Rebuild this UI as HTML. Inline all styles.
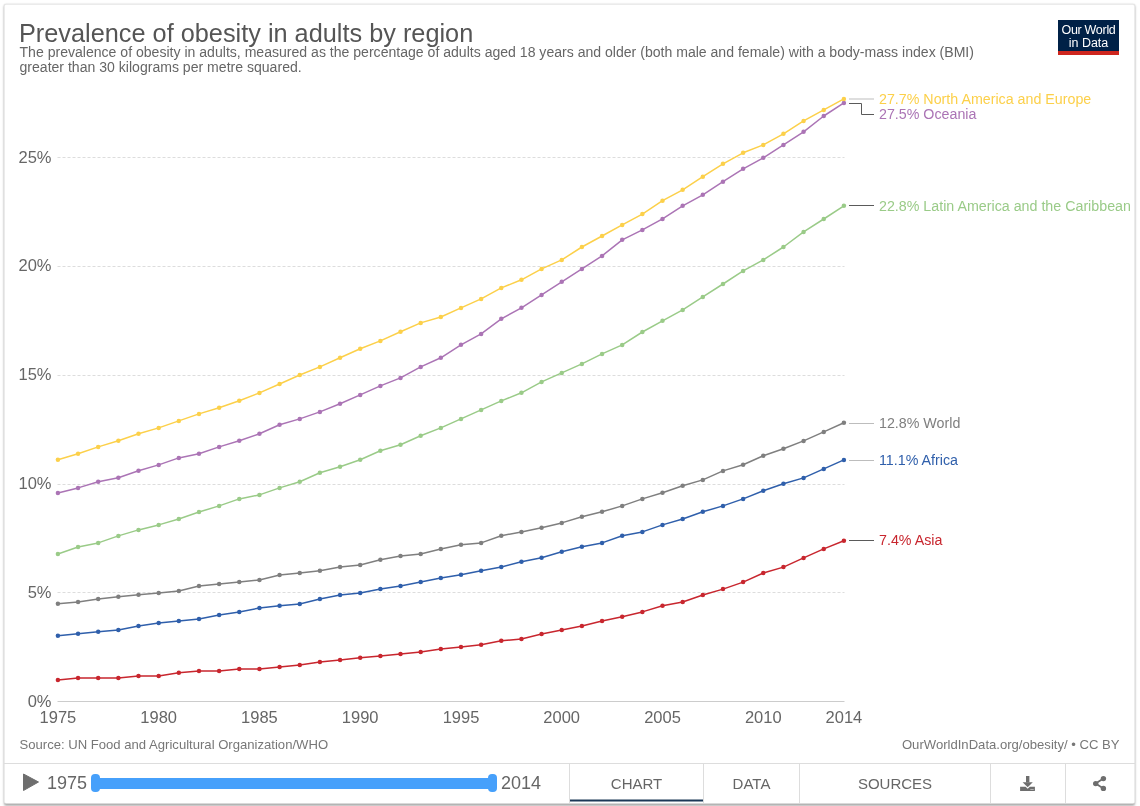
<!DOCTYPE html>
<html><head><meta charset="utf-8">
<style>
html,body{margin:0;padding:0;background:#fff;width:1140px;height:806px;overflow:hidden;}
body{font-family:"Liberation Sans",sans-serif;position:relative;}
.card{position:absolute;left:4px;top:4px;width:1131px;height:800px;box-sizing:border-box;background:#fff;border-radius:2px;border:1px solid rgba(0,0,0,0.08);border-bottom-color:rgba(0,0,0,0.15);
 box-shadow:0 0 1.5px rgba(0,0,0,0.15),0 1.5px 2.5px rgba(0,0,0,0.3);}
svg{position:absolute;left:0;top:0;will-change:transform;}
text{font-family:"Liberation Sans",sans-serif;}
.ax{font-size:16.5px;fill:#666;}
.lb{font-size:14.25px;}
.title{font-size:25.3px;fill:#555;}
.sub{font-size:14.07px;fill:#666;}
.src{font-size:13.1px;fill:#777;}
.ctl{font-size:18px;fill:#666;}
.tab{font-size:15px;fill:#666;}
</style></head><body>
<div class="card"></div>
<svg width="1140" height="806" viewBox="0 0 1140 806">
<text x="19" y="41.7" class="title">Prevalence of obesity in adults by region</text>
<text x="19.5" y="56.7" class="sub">The prevalence of obesity in adults, measured as the percentage of adults aged 18 years and older (both male and female) with a body-mass index (BMI)</text>
<text x="19.5" y="72.2" class="sub">greater than 30 kilograms per metre squared.</text>
<g transform="translate(1058,20)">
<rect x="0" y="0" width="61" height="31" fill="#002147"/>
<rect x="0" y="31" width="61" height="4" fill="#CE261E"/>
<text x="30.5" y="14" text-anchor="middle" font-size="12.5" fill="#fff" letter-spacing="-0.3">Our World</text>
<text x="30.5" y="27" text-anchor="middle" font-size="12.5" fill="#fff">in Data</text>
</g>
<line x1="57.5" y1="592.5" x2="844.5" y2="592.5" stroke="#ddd" stroke-width="1" stroke-dasharray="3,2"/>
<line x1="57.5" y1="484.5" x2="844.5" y2="484.5" stroke="#ddd" stroke-width="1" stroke-dasharray="3,2"/>
<line x1="57.5" y1="375.5" x2="844.5" y2="375.5" stroke="#ddd" stroke-width="1" stroke-dasharray="3,2"/>
<line x1="57.5" y1="266.5" x2="844.5" y2="266.5" stroke="#ddd" stroke-width="1" stroke-dasharray="3,2"/>
<line x1="57.5" y1="157.5" x2="844.5" y2="157.5" stroke="#ddd" stroke-width="1" stroke-dasharray="3,2"/>
<line x1="57.5" y1="701.5" x2="844.5" y2="701.5" stroke="#ccc" stroke-width="1"/>
<text x="51.5" y="706.7" text-anchor="end" class="ax">0%</text>
<text x="51.5" y="597.9" text-anchor="end" class="ax">5%</text>
<text x="51.5" y="489.1" text-anchor="end" class="ax">10%</text>
<text x="51.5" y="380.2" text-anchor="end" class="ax">15%</text>
<text x="51.5" y="271.4" text-anchor="end" class="ax">20%</text>
<text x="51.5" y="162.6" text-anchor="end" class="ax">25%</text>
<text x="57.9" y="722.8" text-anchor="middle" class="ax">1975</text>
<text x="158.7" y="722.8" text-anchor="middle" class="ax">1980</text>
<text x="259.4" y="722.8" text-anchor="middle" class="ax">1985</text>
<text x="360.2" y="722.8" text-anchor="middle" class="ax">1990</text>
<text x="461.0" y="722.8" text-anchor="middle" class="ax">1995</text>
<text x="561.7" y="722.8" text-anchor="middle" class="ax">2000</text>
<text x="662.5" y="722.8" text-anchor="middle" class="ax">2005</text>
<text x="763.3" y="722.8" text-anchor="middle" class="ax">2010</text>
<text x="843.9" y="722.8" text-anchor="middle" class="ax">2014</text>
<polyline points="57.90,680.00 78.05,677.90 98.21,677.90 118.36,677.90 138.52,676.00 158.67,676.00 178.82,672.80 198.98,671.00 219.13,671.00 239.28,668.90 259.44,669.00 279.59,666.90 299.75,665.00 319.90,661.90 340.05,660.00 360.21,657.80 380.36,655.90 400.52,654.00 420.67,651.90 440.82,649.00 460.98,646.90 481.13,644.80 501.28,640.80 521.44,638.90 541.59,634.00 561.75,629.90 581.90,625.90 602.05,620.90 622.21,616.80 642.36,611.90 662.52,605.80 682.67,602.00 702.82,595.00 722.98,589.10 743.13,582.10 763.28,573.00 783.44,567.10 803.59,557.90 823.75,548.90 843.90,540.70" fill="none" stroke="#C8262E" stroke-width="1.5" stroke-linejoin="round"/>
<circle cx="57.90" cy="680.00" r="2.25" fill="#C8262E"/>
<circle cx="78.05" cy="677.90" r="2.25" fill="#C8262E"/>
<circle cx="98.21" cy="677.90" r="2.25" fill="#C8262E"/>
<circle cx="118.36" cy="677.90" r="2.25" fill="#C8262E"/>
<circle cx="138.52" cy="676.00" r="2.25" fill="#C8262E"/>
<circle cx="158.67" cy="676.00" r="2.25" fill="#C8262E"/>
<circle cx="178.82" cy="672.80" r="2.25" fill="#C8262E"/>
<circle cx="198.98" cy="671.00" r="2.25" fill="#C8262E"/>
<circle cx="219.13" cy="671.00" r="2.25" fill="#C8262E"/>
<circle cx="239.28" cy="668.90" r="2.25" fill="#C8262E"/>
<circle cx="259.44" cy="669.00" r="2.25" fill="#C8262E"/>
<circle cx="279.59" cy="666.90" r="2.25" fill="#C8262E"/>
<circle cx="299.75" cy="665.00" r="2.25" fill="#C8262E"/>
<circle cx="319.90" cy="661.90" r="2.25" fill="#C8262E"/>
<circle cx="340.05" cy="660.00" r="2.25" fill="#C8262E"/>
<circle cx="360.21" cy="657.80" r="2.25" fill="#C8262E"/>
<circle cx="380.36" cy="655.90" r="2.25" fill="#C8262E"/>
<circle cx="400.52" cy="654.00" r="2.25" fill="#C8262E"/>
<circle cx="420.67" cy="651.90" r="2.25" fill="#C8262E"/>
<circle cx="440.82" cy="649.00" r="2.25" fill="#C8262E"/>
<circle cx="460.98" cy="646.90" r="2.25" fill="#C8262E"/>
<circle cx="481.13" cy="644.80" r="2.25" fill="#C8262E"/>
<circle cx="501.28" cy="640.80" r="2.25" fill="#C8262E"/>
<circle cx="521.44" cy="638.90" r="2.25" fill="#C8262E"/>
<circle cx="541.59" cy="634.00" r="2.25" fill="#C8262E"/>
<circle cx="561.75" cy="629.90" r="2.25" fill="#C8262E"/>
<circle cx="581.90" cy="625.90" r="2.25" fill="#C8262E"/>
<circle cx="602.05" cy="620.90" r="2.25" fill="#C8262E"/>
<circle cx="622.21" cy="616.80" r="2.25" fill="#C8262E"/>
<circle cx="642.36" cy="611.90" r="2.25" fill="#C8262E"/>
<circle cx="662.52" cy="605.80" r="2.25" fill="#C8262E"/>
<circle cx="682.67" cy="602.00" r="2.25" fill="#C8262E"/>
<circle cx="702.82" cy="595.00" r="2.25" fill="#C8262E"/>
<circle cx="722.98" cy="589.10" r="2.25" fill="#C8262E"/>
<circle cx="743.13" cy="582.10" r="2.25" fill="#C8262E"/>
<circle cx="763.28" cy="573.00" r="2.25" fill="#C8262E"/>
<circle cx="783.44" cy="567.10" r="2.25" fill="#C8262E"/>
<circle cx="803.59" cy="557.90" r="2.25" fill="#C8262E"/>
<circle cx="823.75" cy="548.90" r="2.25" fill="#C8262E"/>
<circle cx="843.90" cy="540.70" r="2.25" fill="#C8262E"/>
<polyline points="57.90,635.70 78.05,633.80 98.21,631.80 118.36,630.00 138.52,625.90 158.67,623.00 178.82,621.00 198.98,618.90 219.13,614.90 239.28,612.10 259.44,608.00 279.59,605.80 299.75,604.00 319.90,599.00 340.05,595.00 360.21,592.90 380.36,589.10 400.52,585.90 420.67,582.10 440.82,578.00 460.98,574.85 481.13,570.70 501.28,566.90 521.44,561.70 541.59,557.80 561.75,551.80 581.90,546.80 602.05,542.90 622.21,535.70 642.36,531.90 662.52,524.90 682.67,519.00 702.82,511.80 722.98,505.90 743.13,498.90 763.28,490.80 783.44,483.80 803.59,477.90 823.75,468.90 843.90,459.90" fill="none" stroke="#2F5FAB" stroke-width="1.5" stroke-linejoin="round"/>
<circle cx="57.90" cy="635.70" r="2.25" fill="#2F5FAB"/>
<circle cx="78.05" cy="633.80" r="2.25" fill="#2F5FAB"/>
<circle cx="98.21" cy="631.80" r="2.25" fill="#2F5FAB"/>
<circle cx="118.36" cy="630.00" r="2.25" fill="#2F5FAB"/>
<circle cx="138.52" cy="625.90" r="2.25" fill="#2F5FAB"/>
<circle cx="158.67" cy="623.00" r="2.25" fill="#2F5FAB"/>
<circle cx="178.82" cy="621.00" r="2.25" fill="#2F5FAB"/>
<circle cx="198.98" cy="618.90" r="2.25" fill="#2F5FAB"/>
<circle cx="219.13" cy="614.90" r="2.25" fill="#2F5FAB"/>
<circle cx="239.28" cy="612.10" r="2.25" fill="#2F5FAB"/>
<circle cx="259.44" cy="608.00" r="2.25" fill="#2F5FAB"/>
<circle cx="279.59" cy="605.80" r="2.25" fill="#2F5FAB"/>
<circle cx="299.75" cy="604.00" r="2.25" fill="#2F5FAB"/>
<circle cx="319.90" cy="599.00" r="2.25" fill="#2F5FAB"/>
<circle cx="340.05" cy="595.00" r="2.25" fill="#2F5FAB"/>
<circle cx="360.21" cy="592.90" r="2.25" fill="#2F5FAB"/>
<circle cx="380.36" cy="589.10" r="2.25" fill="#2F5FAB"/>
<circle cx="400.52" cy="585.90" r="2.25" fill="#2F5FAB"/>
<circle cx="420.67" cy="582.10" r="2.25" fill="#2F5FAB"/>
<circle cx="440.82" cy="578.00" r="2.25" fill="#2F5FAB"/>
<circle cx="460.98" cy="574.85" r="2.25" fill="#2F5FAB"/>
<circle cx="481.13" cy="570.70" r="2.25" fill="#2F5FAB"/>
<circle cx="501.28" cy="566.90" r="2.25" fill="#2F5FAB"/>
<circle cx="521.44" cy="561.70" r="2.25" fill="#2F5FAB"/>
<circle cx="541.59" cy="557.80" r="2.25" fill="#2F5FAB"/>
<circle cx="561.75" cy="551.80" r="2.25" fill="#2F5FAB"/>
<circle cx="581.90" cy="546.80" r="2.25" fill="#2F5FAB"/>
<circle cx="602.05" cy="542.90" r="2.25" fill="#2F5FAB"/>
<circle cx="622.21" cy="535.70" r="2.25" fill="#2F5FAB"/>
<circle cx="642.36" cy="531.90" r="2.25" fill="#2F5FAB"/>
<circle cx="662.52" cy="524.90" r="2.25" fill="#2F5FAB"/>
<circle cx="682.67" cy="519.00" r="2.25" fill="#2F5FAB"/>
<circle cx="702.82" cy="511.80" r="2.25" fill="#2F5FAB"/>
<circle cx="722.98" cy="505.90" r="2.25" fill="#2F5FAB"/>
<circle cx="743.13" cy="498.90" r="2.25" fill="#2F5FAB"/>
<circle cx="763.28" cy="490.80" r="2.25" fill="#2F5FAB"/>
<circle cx="783.44" cy="483.80" r="2.25" fill="#2F5FAB"/>
<circle cx="803.59" cy="477.90" r="2.25" fill="#2F5FAB"/>
<circle cx="823.75" cy="468.90" r="2.25" fill="#2F5FAB"/>
<circle cx="843.90" cy="459.90" r="2.25" fill="#2F5FAB"/>
<polyline points="57.90,603.80 78.05,602.00 98.21,598.90 118.36,596.80 138.52,594.80 158.67,593.00 178.82,590.90 198.98,586.00 219.13,583.90 239.28,581.90 259.44,579.90 279.59,574.90 299.75,573.00 319.90,570.80 340.05,567.00 360.21,564.90 380.36,559.80 400.52,555.90 420.67,553.90 440.82,548.90 460.98,544.85 481.13,542.90 501.28,535.70 521.44,531.90 541.59,527.80 561.75,522.90 581.90,516.80 602.05,511.80 622.21,505.90 642.36,498.90 662.52,492.80 682.67,485.80 702.82,479.90 722.98,470.90 743.13,464.80 763.28,455.80 783.44,448.80 803.59,440.90 823.75,431.90 843.90,422.80" fill="none" stroke="#7F7F7F" stroke-width="1.5" stroke-linejoin="round"/>
<circle cx="57.90" cy="603.80" r="2.25" fill="#7F7F7F"/>
<circle cx="78.05" cy="602.00" r="2.25" fill="#7F7F7F"/>
<circle cx="98.21" cy="598.90" r="2.25" fill="#7F7F7F"/>
<circle cx="118.36" cy="596.80" r="2.25" fill="#7F7F7F"/>
<circle cx="138.52" cy="594.80" r="2.25" fill="#7F7F7F"/>
<circle cx="158.67" cy="593.00" r="2.25" fill="#7F7F7F"/>
<circle cx="178.82" cy="590.90" r="2.25" fill="#7F7F7F"/>
<circle cx="198.98" cy="586.00" r="2.25" fill="#7F7F7F"/>
<circle cx="219.13" cy="583.90" r="2.25" fill="#7F7F7F"/>
<circle cx="239.28" cy="581.90" r="2.25" fill="#7F7F7F"/>
<circle cx="259.44" cy="579.90" r="2.25" fill="#7F7F7F"/>
<circle cx="279.59" cy="574.90" r="2.25" fill="#7F7F7F"/>
<circle cx="299.75" cy="573.00" r="2.25" fill="#7F7F7F"/>
<circle cx="319.90" cy="570.80" r="2.25" fill="#7F7F7F"/>
<circle cx="340.05" cy="567.00" r="2.25" fill="#7F7F7F"/>
<circle cx="360.21" cy="564.90" r="2.25" fill="#7F7F7F"/>
<circle cx="380.36" cy="559.80" r="2.25" fill="#7F7F7F"/>
<circle cx="400.52" cy="555.90" r="2.25" fill="#7F7F7F"/>
<circle cx="420.67" cy="553.90" r="2.25" fill="#7F7F7F"/>
<circle cx="440.82" cy="548.90" r="2.25" fill="#7F7F7F"/>
<circle cx="460.98" cy="544.85" r="2.25" fill="#7F7F7F"/>
<circle cx="481.13" cy="542.90" r="2.25" fill="#7F7F7F"/>
<circle cx="501.28" cy="535.70" r="2.25" fill="#7F7F7F"/>
<circle cx="521.44" cy="531.90" r="2.25" fill="#7F7F7F"/>
<circle cx="541.59" cy="527.80" r="2.25" fill="#7F7F7F"/>
<circle cx="561.75" cy="522.90" r="2.25" fill="#7F7F7F"/>
<circle cx="581.90" cy="516.80" r="2.25" fill="#7F7F7F"/>
<circle cx="602.05" cy="511.80" r="2.25" fill="#7F7F7F"/>
<circle cx="622.21" cy="505.90" r="2.25" fill="#7F7F7F"/>
<circle cx="642.36" cy="498.90" r="2.25" fill="#7F7F7F"/>
<circle cx="662.52" cy="492.80" r="2.25" fill="#7F7F7F"/>
<circle cx="682.67" cy="485.80" r="2.25" fill="#7F7F7F"/>
<circle cx="702.82" cy="479.90" r="2.25" fill="#7F7F7F"/>
<circle cx="722.98" cy="470.90" r="2.25" fill="#7F7F7F"/>
<circle cx="743.13" cy="464.80" r="2.25" fill="#7F7F7F"/>
<circle cx="763.28" cy="455.80" r="2.25" fill="#7F7F7F"/>
<circle cx="783.44" cy="448.80" r="2.25" fill="#7F7F7F"/>
<circle cx="803.59" cy="440.90" r="2.25" fill="#7F7F7F"/>
<circle cx="823.75" cy="431.90" r="2.25" fill="#7F7F7F"/>
<circle cx="843.90" cy="422.80" r="2.25" fill="#7F7F7F"/>
<polyline points="57.90,554.00 78.05,547.00 98.21,542.90 118.36,535.90 138.52,529.90 158.67,524.90 178.82,519.00 198.98,512.00 219.13,505.90 239.28,498.90 259.44,494.90 279.59,487.90 299.75,481.80 319.90,472.80 340.05,466.70 360.21,459.70 380.36,450.70 400.52,444.80 420.67,435.80 440.82,427.90 460.98,418.90 481.13,409.90 501.28,400.90 521.44,392.80 541.59,381.90 561.75,372.90 581.90,363.90 602.05,353.90 622.21,344.90 642.36,332.00 662.52,320.80 682.67,309.90 702.82,296.90 722.98,284.00 743.13,270.90 763.28,259.90 783.44,247.00 803.59,231.90 823.75,219.00 843.90,205.80" fill="none" stroke="#9ACB88" stroke-width="1.5" stroke-linejoin="round"/>
<circle cx="57.90" cy="554.00" r="2.25" fill="#9ACB88"/>
<circle cx="78.05" cy="547.00" r="2.25" fill="#9ACB88"/>
<circle cx="98.21" cy="542.90" r="2.25" fill="#9ACB88"/>
<circle cx="118.36" cy="535.90" r="2.25" fill="#9ACB88"/>
<circle cx="138.52" cy="529.90" r="2.25" fill="#9ACB88"/>
<circle cx="158.67" cy="524.90" r="2.25" fill="#9ACB88"/>
<circle cx="178.82" cy="519.00" r="2.25" fill="#9ACB88"/>
<circle cx="198.98" cy="512.00" r="2.25" fill="#9ACB88"/>
<circle cx="219.13" cy="505.90" r="2.25" fill="#9ACB88"/>
<circle cx="239.28" cy="498.90" r="2.25" fill="#9ACB88"/>
<circle cx="259.44" cy="494.90" r="2.25" fill="#9ACB88"/>
<circle cx="279.59" cy="487.90" r="2.25" fill="#9ACB88"/>
<circle cx="299.75" cy="481.80" r="2.25" fill="#9ACB88"/>
<circle cx="319.90" cy="472.80" r="2.25" fill="#9ACB88"/>
<circle cx="340.05" cy="466.70" r="2.25" fill="#9ACB88"/>
<circle cx="360.21" cy="459.70" r="2.25" fill="#9ACB88"/>
<circle cx="380.36" cy="450.70" r="2.25" fill="#9ACB88"/>
<circle cx="400.52" cy="444.80" r="2.25" fill="#9ACB88"/>
<circle cx="420.67" cy="435.80" r="2.25" fill="#9ACB88"/>
<circle cx="440.82" cy="427.90" r="2.25" fill="#9ACB88"/>
<circle cx="460.98" cy="418.90" r="2.25" fill="#9ACB88"/>
<circle cx="481.13" cy="409.90" r="2.25" fill="#9ACB88"/>
<circle cx="501.28" cy="400.90" r="2.25" fill="#9ACB88"/>
<circle cx="521.44" cy="392.80" r="2.25" fill="#9ACB88"/>
<circle cx="541.59" cy="381.90" r="2.25" fill="#9ACB88"/>
<circle cx="561.75" cy="372.90" r="2.25" fill="#9ACB88"/>
<circle cx="581.90" cy="363.90" r="2.25" fill="#9ACB88"/>
<circle cx="602.05" cy="353.90" r="2.25" fill="#9ACB88"/>
<circle cx="622.21" cy="344.90" r="2.25" fill="#9ACB88"/>
<circle cx="642.36" cy="332.00" r="2.25" fill="#9ACB88"/>
<circle cx="662.52" cy="320.80" r="2.25" fill="#9ACB88"/>
<circle cx="682.67" cy="309.90" r="2.25" fill="#9ACB88"/>
<circle cx="702.82" cy="296.90" r="2.25" fill="#9ACB88"/>
<circle cx="722.98" cy="284.00" r="2.25" fill="#9ACB88"/>
<circle cx="743.13" cy="270.90" r="2.25" fill="#9ACB88"/>
<circle cx="763.28" cy="259.90" r="2.25" fill="#9ACB88"/>
<circle cx="783.44" cy="247.00" r="2.25" fill="#9ACB88"/>
<circle cx="803.59" cy="231.90" r="2.25" fill="#9ACB88"/>
<circle cx="823.75" cy="219.00" r="2.25" fill="#9ACB88"/>
<circle cx="843.90" cy="205.80" r="2.25" fill="#9ACB88"/>
<polyline points="57.90,492.90 78.05,487.90 98.21,481.80 118.36,477.80 138.52,470.80 158.67,464.90 178.82,457.90 198.98,453.80 219.13,446.90 239.28,440.80 259.44,433.80 279.59,424.80 299.75,418.90 319.90,411.90 340.05,403.80 360.21,394.90 380.36,385.90 400.52,377.90 420.67,366.90 440.82,357.80 460.98,344.80 481.13,333.90 501.28,318.80 521.44,307.80 541.59,294.90 561.75,281.80 581.90,268.90 602.05,255.90 622.21,239.80 642.36,229.90 662.52,218.90 682.67,205.80 702.82,194.80 722.98,181.70 743.13,168.80 763.28,157.80 783.44,144.90 803.59,131.80 823.75,116.00 843.90,102.90" fill="none" stroke="#AB74B5" stroke-width="1.5" stroke-linejoin="round"/>
<circle cx="57.90" cy="492.90" r="2.25" fill="#AB74B5"/>
<circle cx="78.05" cy="487.90" r="2.25" fill="#AB74B5"/>
<circle cx="98.21" cy="481.80" r="2.25" fill="#AB74B5"/>
<circle cx="118.36" cy="477.80" r="2.25" fill="#AB74B5"/>
<circle cx="138.52" cy="470.80" r="2.25" fill="#AB74B5"/>
<circle cx="158.67" cy="464.90" r="2.25" fill="#AB74B5"/>
<circle cx="178.82" cy="457.90" r="2.25" fill="#AB74B5"/>
<circle cx="198.98" cy="453.80" r="2.25" fill="#AB74B5"/>
<circle cx="219.13" cy="446.90" r="2.25" fill="#AB74B5"/>
<circle cx="239.28" cy="440.80" r="2.25" fill="#AB74B5"/>
<circle cx="259.44" cy="433.80" r="2.25" fill="#AB74B5"/>
<circle cx="279.59" cy="424.80" r="2.25" fill="#AB74B5"/>
<circle cx="299.75" cy="418.90" r="2.25" fill="#AB74B5"/>
<circle cx="319.90" cy="411.90" r="2.25" fill="#AB74B5"/>
<circle cx="340.05" cy="403.80" r="2.25" fill="#AB74B5"/>
<circle cx="360.21" cy="394.90" r="2.25" fill="#AB74B5"/>
<circle cx="380.36" cy="385.90" r="2.25" fill="#AB74B5"/>
<circle cx="400.52" cy="377.90" r="2.25" fill="#AB74B5"/>
<circle cx="420.67" cy="366.90" r="2.25" fill="#AB74B5"/>
<circle cx="440.82" cy="357.80" r="2.25" fill="#AB74B5"/>
<circle cx="460.98" cy="344.80" r="2.25" fill="#AB74B5"/>
<circle cx="481.13" cy="333.90" r="2.25" fill="#AB74B5"/>
<circle cx="501.28" cy="318.80" r="2.25" fill="#AB74B5"/>
<circle cx="521.44" cy="307.80" r="2.25" fill="#AB74B5"/>
<circle cx="541.59" cy="294.90" r="2.25" fill="#AB74B5"/>
<circle cx="561.75" cy="281.80" r="2.25" fill="#AB74B5"/>
<circle cx="581.90" cy="268.90" r="2.25" fill="#AB74B5"/>
<circle cx="602.05" cy="255.90" r="2.25" fill="#AB74B5"/>
<circle cx="622.21" cy="239.80" r="2.25" fill="#AB74B5"/>
<circle cx="642.36" cy="229.90" r="2.25" fill="#AB74B5"/>
<circle cx="662.52" cy="218.90" r="2.25" fill="#AB74B5"/>
<circle cx="682.67" cy="205.80" r="2.25" fill="#AB74B5"/>
<circle cx="702.82" cy="194.80" r="2.25" fill="#AB74B5"/>
<circle cx="722.98" cy="181.70" r="2.25" fill="#AB74B5"/>
<circle cx="743.13" cy="168.80" r="2.25" fill="#AB74B5"/>
<circle cx="763.28" cy="157.80" r="2.25" fill="#AB74B5"/>
<circle cx="783.44" cy="144.90" r="2.25" fill="#AB74B5"/>
<circle cx="803.59" cy="131.80" r="2.25" fill="#AB74B5"/>
<circle cx="823.75" cy="116.00" r="2.25" fill="#AB74B5"/>
<circle cx="843.90" cy="102.90" r="2.25" fill="#AB74B5"/>
<polyline points="57.90,459.70 78.05,453.80 98.21,446.90 118.36,440.80 138.52,433.80 158.67,427.90 178.82,420.90 198.98,413.90 219.13,407.80 239.28,400.80 259.44,392.90 279.59,384.00 299.75,375.00 319.90,366.90 340.05,357.80 360.21,348.80 380.36,340.90 400.52,331.80 420.67,322.90 440.82,317.00 460.98,307.90 481.13,298.90 501.28,287.90 521.44,279.80 541.59,268.90 561.75,259.90 581.90,247.00 602.05,236.00 622.21,224.90 642.36,214.10 662.52,200.70 682.67,189.80 702.82,176.70 722.98,163.80 743.13,152.80 763.28,144.90 783.44,133.80 803.59,120.90 823.75,109.90 843.90,98.95" fill="none" stroke="#FCD04A" stroke-width="1.5" stroke-linejoin="round"/>
<circle cx="57.90" cy="459.70" r="2.25" fill="#FCD04A"/>
<circle cx="78.05" cy="453.80" r="2.25" fill="#FCD04A"/>
<circle cx="98.21" cy="446.90" r="2.25" fill="#FCD04A"/>
<circle cx="118.36" cy="440.80" r="2.25" fill="#FCD04A"/>
<circle cx="138.52" cy="433.80" r="2.25" fill="#FCD04A"/>
<circle cx="158.67" cy="427.90" r="2.25" fill="#FCD04A"/>
<circle cx="178.82" cy="420.90" r="2.25" fill="#FCD04A"/>
<circle cx="198.98" cy="413.90" r="2.25" fill="#FCD04A"/>
<circle cx="219.13" cy="407.80" r="2.25" fill="#FCD04A"/>
<circle cx="239.28" cy="400.80" r="2.25" fill="#FCD04A"/>
<circle cx="259.44" cy="392.90" r="2.25" fill="#FCD04A"/>
<circle cx="279.59" cy="384.00" r="2.25" fill="#FCD04A"/>
<circle cx="299.75" cy="375.00" r="2.25" fill="#FCD04A"/>
<circle cx="319.90" cy="366.90" r="2.25" fill="#FCD04A"/>
<circle cx="340.05" cy="357.80" r="2.25" fill="#FCD04A"/>
<circle cx="360.21" cy="348.80" r="2.25" fill="#FCD04A"/>
<circle cx="380.36" cy="340.90" r="2.25" fill="#FCD04A"/>
<circle cx="400.52" cy="331.80" r="2.25" fill="#FCD04A"/>
<circle cx="420.67" cy="322.90" r="2.25" fill="#FCD04A"/>
<circle cx="440.82" cy="317.00" r="2.25" fill="#FCD04A"/>
<circle cx="460.98" cy="307.90" r="2.25" fill="#FCD04A"/>
<circle cx="481.13" cy="298.90" r="2.25" fill="#FCD04A"/>
<circle cx="501.28" cy="287.90" r="2.25" fill="#FCD04A"/>
<circle cx="521.44" cy="279.80" r="2.25" fill="#FCD04A"/>
<circle cx="541.59" cy="268.90" r="2.25" fill="#FCD04A"/>
<circle cx="561.75" cy="259.90" r="2.25" fill="#FCD04A"/>
<circle cx="581.90" cy="247.00" r="2.25" fill="#FCD04A"/>
<circle cx="602.05" cy="236.00" r="2.25" fill="#FCD04A"/>
<circle cx="622.21" cy="224.90" r="2.25" fill="#FCD04A"/>
<circle cx="642.36" cy="214.10" r="2.25" fill="#FCD04A"/>
<circle cx="662.52" cy="200.70" r="2.25" fill="#FCD04A"/>
<circle cx="682.67" cy="189.80" r="2.25" fill="#FCD04A"/>
<circle cx="702.82" cy="176.70" r="2.25" fill="#FCD04A"/>
<circle cx="722.98" cy="163.80" r="2.25" fill="#FCD04A"/>
<circle cx="743.13" cy="152.80" r="2.25" fill="#FCD04A"/>
<circle cx="763.28" cy="144.90" r="2.25" fill="#FCD04A"/>
<circle cx="783.44" cy="133.80" r="2.25" fill="#FCD04A"/>
<circle cx="803.59" cy="120.90" r="2.25" fill="#FCD04A"/>
<circle cx="823.75" cy="109.90" r="2.25" fill="#FCD04A"/>
<circle cx="843.90" cy="98.95" r="2.25" fill="#FCD04A"/>
<line x1="849" y1="99.0" x2="874" y2="99.0" stroke="#bdbdbd" stroke-width="1"/>
<text x="879" y="103.9" class="lb" fill="#FCD04A">27.7% North America and Europe</text>
<polyline points="849,103.5 861.5,103.5 861.5,114.5 874,114.5" fill="none" stroke="#5a5a5a" stroke-width="1"/>
<text x="879" y="119.3" class="lb" fill="#AB74B5">27.5% Oceania</text>
<line x1="849" y1="205.5" x2="874" y2="205.5" stroke="#5a5a5a" stroke-width="1"/>
<text x="879" y="210.6" class="lb" fill="#9ACB88">22.8% Latin America and the Caribbean</text>
<line x1="849" y1="423.5" x2="874" y2="423.5" stroke="#bdbdbd" stroke-width="1"/>
<text x="879" y="428.0" class="lb" fill="#7F7F7F">12.8% World</text>
<line x1="849" y1="460.5" x2="874" y2="460.5" stroke="#bdbdbd" stroke-width="1"/>
<text x="879" y="465.0" class="lb" fill="#2F5FAB">11.1% Africa</text>
<line x1="849" y1="540.5" x2="874" y2="540.5" stroke="#5a5a5a" stroke-width="1"/>
<text x="879" y="545.4" class="lb" fill="#C8262E">7.4% Asia</text>
<text x="19.5" y="749" class="src">Source: UN Food and Agricultural Organization/WHO</text>
<text x="1119.5" y="749" text-anchor="end" class="src">OurWorldInData.org/obesity/ • CC BY</text>
<line x1="4" y1="763.5" x2="1135" y2="763.5" stroke="#ddd" stroke-width="1"/>
<path d="M23.5,774 L38.5,782 L23.5,790.5 Z" fill="#6e6e6e" stroke="#6e6e6e" stroke-width="1" stroke-linejoin="round"/>
<text x="47" y="788.8" class="ctl">1975</text>
<rect x="95" y="778" width="398" height="11" fill="#46A0FB"/>
<rect x="91" y="774" width="9" height="18" rx="4" fill="#46A0FB"/>
<rect x="488" y="774" width="9" height="18" rx="4" fill="#46A0FB"/>
<text x="501" y="788.8" class="ctl">2014</text>
<line x1="569.5" y1="764" x2="569.5" y2="803" stroke="#ddd" stroke-width="1"/>
<line x1="703.5" y1="764" x2="703.5" y2="803" stroke="#ddd" stroke-width="1"/>
<line x1="799.5" y1="764" x2="799.5" y2="803" stroke="#ddd" stroke-width="1"/>
<line x1="990.5" y1="764" x2="990.5" y2="803" stroke="#ddd" stroke-width="1"/>
<line x1="1065.5" y1="764" x2="1065.5" y2="803" stroke="#ddd" stroke-width="1"/>
<rect x="570" y="799.5" width="133" height="2" fill="#1b3857"/>
<text x="636.5" y="788.8" text-anchor="middle" class="tab">CHART</text>
<text x="751.5" y="788.8" text-anchor="middle" class="tab">DATA</text>
<text x="895" y="788.8" text-anchor="middle" class="tab">SOURCES</text>
<g fill="#6e6e6e">
<rect x="1026" y="776" width="3.4" height="6.5"/>
<path d="M1022.6,782.2 L1032.8,782.2 L1027.7,787.2 Z"/>
<path d="M1020.1,786.7 H1025.6 L1027.7,788.8 L1029.8,786.7 H1034.9 V790.9 H1020.1 Z"/>
<rect x="1030.3" y="789.1" width="3.4" height="0.9" fill="#bbb"/>
</g>
<g fill="#6e6e6e">
<circle cx="1103.4" cy="778.6" r="2.7"/>
<circle cx="1095.7" cy="783.6" r="2.7"/>
<circle cx="1103.4" cy="788.4" r="2.7"/>
<path d="M1103.4,778.6 L1095.7,783.6 L1103.4,788.4" fill="none" stroke="#6e6e6e" stroke-width="1.8"/>
</g>
</svg>
</body></html>
